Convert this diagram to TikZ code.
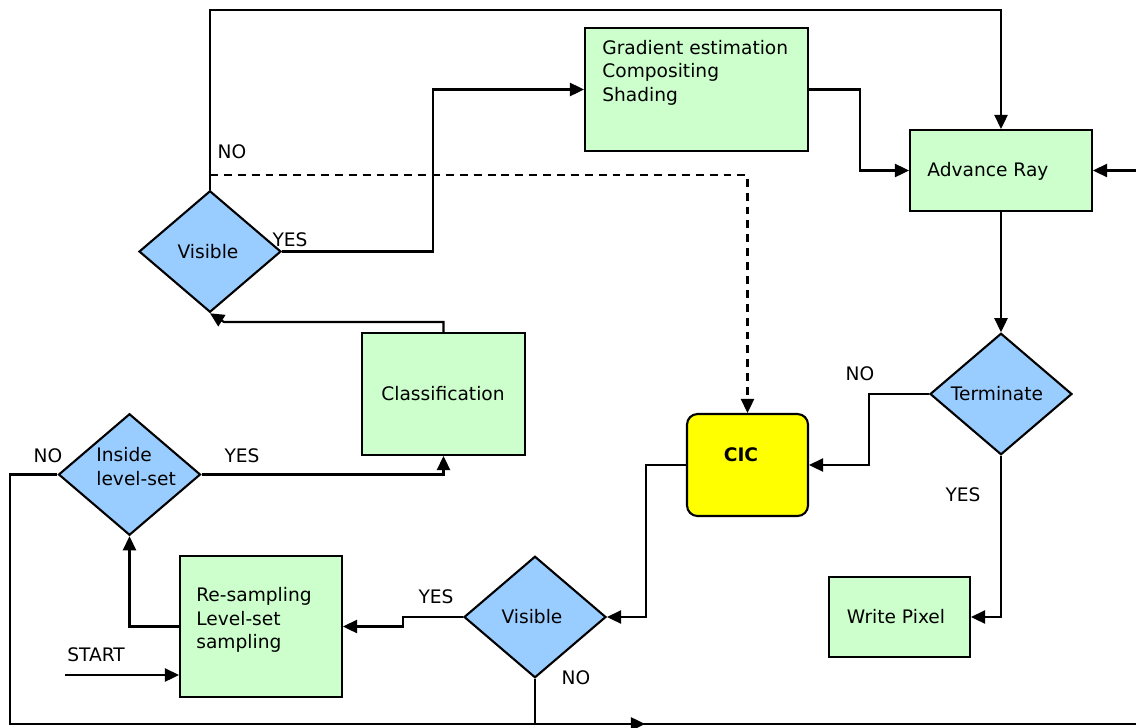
\documentclass[tikz,border=0pt]{standalone}
\usepackage{fontspec}
\setmainfont{DejaVu Sans}
\usetikzlibrary{shapes.geometric,arrows.meta}
\definecolor{boxgreen}{HTML}{CCFFCC}
\definecolor{diablue}{HTML}{99CCFF}
\definecolor{cicyellow}{HTML}{FFFF00}
\begin{document}
\begin{tikzpicture}[x=0.02cm,y=-0.02cm,
  every node/.style={font=\fontsize{10.6}{13.4}\selectfont},
  procbox/.style={draw=black,line width=1.2pt,fill=boxgreen,rectangle,inner sep=0pt},
  decis/.style={draw=black,line width=1.2pt,fill=diablue,diamond,inner sep=0pt,minimum width=2.84cm,minimum height=2.43cm},
  cicbox/.style={draw=black,line width=1.2pt,fill=cicyellow,rectangle,rounded corners=6pt,inner sep=0pt},
  txt/.style={inner sep=0pt},
  conn/.style={line width=1.2pt,-{Triangle[length=8pt,width=7.5pt]}},
  plain/.style={line width=1.2pt},
  dashline/.style={line width=1.2pt,dash pattern=on 4.5pt off 3.4pt,-{Triangle[length=8pt,width=7.5pt]}}]
\fill[white] (0,0) rectangle (1136,727);
\useasboundingbox (0,0) rectangle (1136,727);

% nodes
\node[procbox,minimum width=4.46cm,minimum height=2.46cm] (grad) at (696.5,89.5) {};
\node[procbox,minimum width=3.64cm,minimum height=1.62cm] (adv) at (1001,170.5) {};
\node[decis] (term) at (1001,394) {};
\node[procbox,minimum width=2.82cm,minimum height=1.6cm] (write) at (899.5,617) {};
\node[cicbox,minimum width=2.42cm,minimum height=2.04cm] (cic) at (747.5,465) {};
\node[decis] (vis2) at (535,617) {};
\node[procbox,minimum width=3.24cm,minimum height=2.82cm] (resamp) at (261,626.5) {};
\node[decis] (inside) at (129.5,474.5) {};
\node[procbox,minimum width=3.26cm,minimum height=2.44cm] (class) at (443.5,394) {};
\node[decis] (vis1) at (210,251.5) {};

% texts
\node[txt,anchor=west,align=left] (tgrad) at (602,72.5) {Gradient estimation\\Compositing\\Shading};
\node[txt,anchor=west] (tadv) at (927,171) {Advance Ray};
\node[txt] (tterm) at (997,394) {Terminate};
\node[txt] (twrite) at (896,617) {Write Pixel};
\node[txt,font=\fontsize{10.6}{13.4}\selectfont\bfseries] (tcic) at (741,455) {CIC};
\node[txt] (tvis2) at (532,617) {Visible};
\node[txt,anchor=west,align=left] (tres) at (196,620) {Re-sampling\\Level-set\\sampling};
\node[txt,anchor=west,align=left] (tins) at (96,466.5) {Inside\\level-set};
\node[txt] (tclass) at (443,394) {Classification};
\node[txt] (tvis1) at (208,252) {Visible};

% labels
\node[txt] (l1) at (232,152) {NO};
\node[txt] (l2) at (290,240) {YES};
\node[txt] (l3) at (860,374) {NO};
\node[txt] (l4) at (963,495) {YES};
\node[txt] (l5) at (436,597) {YES};
\node[txt] (l6) at (576,678) {NO};
\node[txt] (l7) at (48,456) {NO};
\node[txt] (l8) at (242,456) {YES};
\node[txt] (l9) at (96,655) {START};

% coordinates
\coordinate (dstart) at (210,175);
\coordinate (rin) at (1136,170.5);
\coordinate (st) at (65,675);
\coordinate (bend) at (1136,724);

% connectors
\draw[conn] (vis1.north) -- (210,10) -| (adv.north);
\draw[dashline] (dstart) -| (cic.north);
\draw[conn] (vis1.east) -- (433,251.5) |- (grad.west);
\draw[conn] (grad.east) -- (860,89.5) |- (adv.west);
\draw[conn] (rin) -- (adv.east);
\draw[conn] (adv.south) -- (term.north);
\draw[conn] (term.west) -- (869,394) |- (cic.east);
\draw[conn] (term.south) |- (write.east);
\draw[conn] (cic.west) -- (646,465) |- (vis2.east);
\draw[conn] (vis2.west) -- (403,617) |- (resamp.east);
\draw[conn] (resamp.west) -| (inside.south);
\draw[conn] (st) -- (resamp.west |- st);
\draw[conn] (inside.east) -| (class.south);
\draw[conn] (class.north) |- (224,322) -- (vis1.south);
\draw[plain] (inside.west) -- (10,474.5) -- (10,724) -- (bend);
\draw[conn] (vis2.south) -- (535,724) -- (645,724);
\end{tikzpicture}
\end{document}
